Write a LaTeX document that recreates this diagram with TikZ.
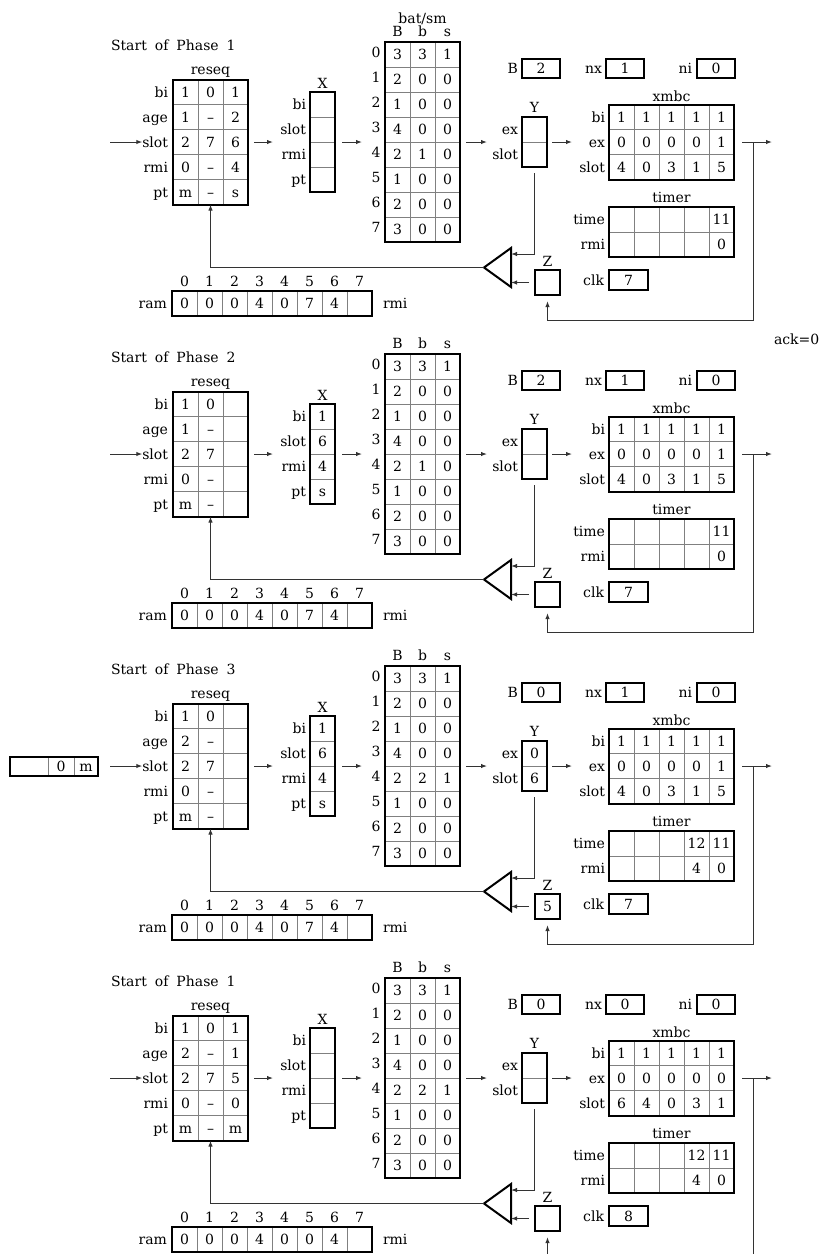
\documentclass[tikz,border=0pt]{standalone}
\usepackage{fontspec}
\setmainfont{DejaVu Serif}
\usetikzlibrary{arrows.meta}
\newcommand\vf{\fontsize{7pt}{8pt}\selectfont}
\newcommand\E{}
\tikzset{
  box/.style={draw=black,line width=1pt,inner sep=0pt,outer sep=0pt},
  inln/.style={draw=black!50,line width=0.5pt},
  conn/.style={draw=black!80,line width=0.5pt},
  arr/.style={conn,-{Latex[length=3pt,width=2.2pt]}},
  txt/.style={inner sep=0pt,outer sep=0pt,text height=5.1pt,text depth=0pt,font=\vf},
  lab/.style={txt,anchor=east},
}
% name, x0, y0, ncols, nrows, cellw, cellh
\newcommand\grid[7]{%
  \foreach \i in {1,...,#4}{\ifnum\i<#4\relax\draw[inln] ({#2+\i*#6},#3) -- ({#2+\i*#6},{#3+#5*#7});\fi}%
  \foreach \j in {1,...,#5}{\ifnum\j<#5\relax\draw[inln] (#2,{#3+\j*#7}) -- ({#2+#4*#6},{#3+\j*#7});\fi}%
  \node[box,minimum width={#4*#6*0.5pt},minimum height={#5*#7*0.5pt}] (#1) at ({#2+#4*#6/2},{#3+#5*#7/2}) {};%
}
% name, x0, y0, cellw, cellh, rows
\newcommand\cells[6]{%
  \foreach \row [count=\ri] in {#6}{%
    \foreach \v [count=\ci] in \row {%
      \node[txt] (#1-\ri-\ci) at ({#2+(\ci-0.5)*#4},{#3+(\ri-0.5)*#5}) {\v};
    }}}
% name, xright, y0, cellh, list
\newcommand\rlabels[5]{%
  \foreach \t [count=\ri] in {#5}{\node[lab] (#1-l\ri) at (#2,{#3+(\ri-0.5)*#4}) {\t};}}
% prefix, phase, last
\newcommand\panel[3]{%
 \node[txt,anchor=west] (#1-title) at (111,45) {Start\hspace{4pt}of\hspace{4pt}Phase\hspace{4pt}#2};
 \node[txt] (#1-reseqlab) at (210.5,69) {reseq};
 \grid{#1-reseq}{173}{79.5}{3}{5}{25}{25}
 \rlabels{#1-reseq}{168}{79.5}{25}{bi,age,slot,rmi,pt}
 \node[txt] (#1-Xlab) at (322.5,83) {X};
 \grid{#1-X}{310}{92}{1}{4}{25}{25}
 \rlabels{#1-X}{306}{92}{25}{bi,slot,rmi,pt}
 \foreach \t [count=\ci] in {B,b,s}{\node[txt] (#1-bath\ci) at ({385+(\ci-0.5)*25},31) {\t};}
 \grid{#1-bat}{385}{42}{3}{8}{25}{25}
 \foreach \k in {0,...,7}{\node[txt] (#1-bati\k) at (376,{52.5+\k*25}) {\k};}
 \node[lab] (#1-Blab) at (518,68.5) {B};
 \grid{#1-B}{522}{59}{1}{1}{38}{19}
 \node[lab] (#1-nxlab) at (602,68.5) {nx};
 \grid{#1-nx}{606}{59}{1}{1}{38}{19}
 \node[lab] (#1-nilab) at (692,68.5) {ni};
 \grid{#1-ni}{697}{59}{1}{1}{38}{19}
 \node[txt] (#1-Ylab) at (534.5,107) {Y};
 \grid{#1-Y}{522}{117}{1}{2}{25}{25}
 \rlabels{#1-Y}{518}{117}{25}{ex,slot}
 \node[txt] (#1-xmbclab) at (671.5,96) {xmbc};
 \grid{#1-xmbc}{609}{104.5}{5}{3}{25}{25}
 \rlabels{#1-xmbc}{605}{104.5}{25}{bi,ex,slot}
 \node[txt] (#1-timerlab) at (671.5,197) {timer};
 \grid{#1-timer}{609}{207}{5}{2}{25}{25}
 \rlabels{#1-timer}{605}{207}{25}{time,rmi}
 \node[lab] (#1-clklab) at (604,280) {clk};
 \grid{#1-clk}{609}{270}{1}{1}{39}{20}
 \node[txt] (#1-Zlab) at (547.5,261) {Z};
 \grid{#1-Z}{535}{270}{1}{1}{25}{25}
 \foreach \k in {0,...,7}{\node[txt] (#1-rami\k) at ({184.5+\k*25},281) {\k};}
 \grid{#1-ram}{172}{291}{8}{1}{25}{25}
 \node[lab] (#1-ramlab) at (167,303.5) {ram};
 \node[txt,anchor=west] (#1-rmilab) at (383,303.5) {rmi};
 \coordinate (#1-tA) at (484,267.5);
 \coordinate (#1-tT) at (511,248);
 \coordinate (#1-tB) at (511,287);
 \coordinate (#1-tI) at (511,254);
 \draw[line width=1pt,line join=miter] (#1-tT) -- (#1-tA) -- (#1-tB) -- cycle;
 \coordinate (#1-in) at (110,142);
 \draw[arr] (#1-in) -- (#1-reseq-l3.west);
 \draw[arr] ([xshift=3pt]#1-reseq.east) -- ([xshift=-18.5pt]#1-X.west);
 \draw[arr] ([xshift=3.5pt]#1-X.east) -- ([xshift=-11.5pt]#1-bat.west);
 \draw[arr] ([xshift=3pt]#1-bat.east) -- ([xshift=-17.5pt]#1-Y.west);
 \draw[arr] ([xshift=2.5pt]#1-Y.east) -- ([xshift=-18.5pt]#1-xmbc.west);
 \coordinate (#1-out) at (772,142);
 \coordinate (#1-tap) at (753,142);
 \draw[arr] ([xshift=4pt]#1-xmbc.east) -- (#1-out);
 \draw[arr] ([yshift=-3pt]#1-Y.south) |- (#1-tI);
 \draw[arr] ([xshift=-3pt]#1-Z.west) -- (#1-tT |- #1-Z.west);
 \draw[arr] (#1-tA) -| (#1-reseq.south);
 \ifnum#3=0
   \coordinate (#1-ret) at (753,320);
   \draw[arr] (#1-tap) -- (#1-ret) -| ([yshift=-3pt]#1-Z.south);
 \else
   \coordinate (#1-ret) at (753,318);
   \coordinate (#1-zin) at (547.5,318);
   \draw[conn] (#1-tap) -- (#1-ret);
   \draw[arr] (#1-zin) -- ([yshift=-3pt]#1-Z.south);
 \fi
}
\begin{document}
\begin{tikzpicture}[x=0.5pt,y=-0.5pt]
\useasboundingbox (0,0) rectangle (824,1254);
\fill[white] (0,0) rectangle (824,1254);

% ---------- Panel 1 ----------
\begin{scope}
\panel{p1}{1}{0}
\node[txt] (p1-batlab) at (422.5,18) {bat/sm};
\cells{p1-reseq}{173}{79.5}{25}{25}{{1,0,1},{1,–,2},{2,7,6},{0,–,4},{m,–,s}}
\cells{p1-bat}{385}{42}{25}{25}{{3,3,1},{2,0,0},{1,0,0},{4,0,0},{2,1,0},{1,0,0},{2,0,0},{3,0,0}}
\node[txt] (p1-Bv) at (p1-B) {2};
\node[txt] (p1-nxv) at (p1-nx) {1};
\node[txt] (p1-niv) at (p1-ni) {0};
\cells{p1-xmbc}{609}{104.5}{25}{25}{{1,1,1,1,1},{0,0,0,0,1},{4,0,3,1,5}}
\cells{p1-timer}{609}{207}{25}{25}{{\E,\E,\E,\E,11},{\E,\E,\E,\E,0}}
\node[txt] (p1-clkv) at (p1-clk) {7};
\cells{p1-ram}{172}{291}{25}{25}{{0,0,0,4,0,7,4,\E}}
\end{scope}

\node[txt,anchor=west] (ack) at (774,339) {ack=0};

% ---------- Panel 2 ----------
\begin{scope}[shift={(0,312)}]
\panel{p2}{2}{0}
\cells{p2-reseq}{173}{79.5}{25}{25}{{1,0,\E},{1,–,\E},{2,7,\E},{0,–,\E},{m,–,\E}}
\cells{p2-X}{310}{92}{25}{25}{{1},{6},{4},{s}}
\cells{p2-bat}{385}{42}{25}{25}{{3,3,1},{2,0,0},{1,0,0},{4,0,0},{2,1,0},{1,0,0},{2,0,0},{3,0,0}}
\node[txt] (p2-Bv) at (p2-B) {2};
\node[txt] (p2-nxv) at (p2-nx) {1};
\node[txt] (p2-niv) at (p2-ni) {0};
\cells{p2-xmbc}{609}{104.5}{25}{25}{{1,1,1,1,1},{0,0,0,0,1},{4,0,3,1,5}}
\cells{p2-timer}{609}{207}{25}{25}{{\E,\E,\E,\E,11},{\E,\E,\E,\E,0}}
\node[txt] (p2-clkv) at (p2-clk) {7};
\cells{p2-ram}{172}{291}{25}{25}{{0,0,0,4,0,7,4,\E}}
\end{scope}

% ---------- Panel 3 ----------
\begin{scope}[shift={(0,624)}]
\panel{p3}{3}{0}
\draw[inln] (48,133) -- (48,152);
\draw[inln] (74,133) -- (74,152);
\node[box,minimum width=44pt,minimum height=9.5pt] (p3-inbox) at (54,142.5) {};
\node[txt] (p3-inv2) at (61,142.5) {0};
\node[txt] (p3-inv3) at (86,142.5) {m};
\cells{p3-reseq}{173}{79.5}{25}{25}{{1,0,\E},{2,–,\E},{2,7,\E},{0,–,\E},{m,–,\E}}
\cells{p3-X}{310}{92}{25}{25}{{1},{6},{4},{s}}
\cells{p3-bat}{385}{42}{25}{25}{{3,3,1},{2,0,0},{1,0,0},{4,0,0},{2,2,1},{1,0,0},{2,0,0},{3,0,0}}
\cells{p3-Y}{522}{117}{25}{25}{{0},{6}}
\node[txt] (p3-Bv) at (p3-B) {0};
\node[txt] (p3-nxv) at (p3-nx) {1};
\node[txt] (p3-niv) at (p3-ni) {0};
\cells{p3-xmbc}{609}{104.5}{25}{25}{{1,1,1,1,1},{0,0,0,0,1},{4,0,3,1,5}}
\cells{p3-timer}{609}{207}{25}{25}{{\E,\E,\E,12,11},{\E,\E,\E,4,0}}
\node[txt] (p3-clkv) at (p3-clk) {7};
\node[txt] (p3-Zv) at (p3-Z) {5};
\cells{p3-ram}{172}{291}{25}{25}{{0,0,0,4,0,7,4,\E}}
\end{scope}

% ---------- Panel 4 ----------
\begin{scope}[shift={(0,936)}]
\panel{p4}{1}{1}
\cells{p4-reseq}{173}{79.5}{25}{25}{{1,0,1},{2,–,1},{2,7,5},{0,–,0},{m,–,m}}
\cells{p4-bat}{385}{42}{25}{25}{{3,3,1},{2,0,0},{1,0,0},{4,0,0},{2,2,1},{1,0,0},{2,0,0},{3,0,0}}
\node[txt] (p4-Bv) at (p4-B) {0};
\node[txt] (p4-nxv) at (p4-nx) {0};
\node[txt] (p4-niv) at (p4-ni) {0};
\cells{p4-xmbc}{609}{104.5}{25}{25}{{1,1,1,1,1},{0,0,0,0,0},{6,4,0,3,1}}
\cells{p4-timer}{609}{207}{25}{25}{{\E,\E,\E,12,11},{\E,\E,\E,4,0}}
\node[txt] (p4-clkv) at (p4-clk) {8};
\cells{p4-ram}{172}{291}{25}{25}{{0,0,0,4,0,0,4,\E}}
\end{scope}
\end{tikzpicture}
\end{document}
